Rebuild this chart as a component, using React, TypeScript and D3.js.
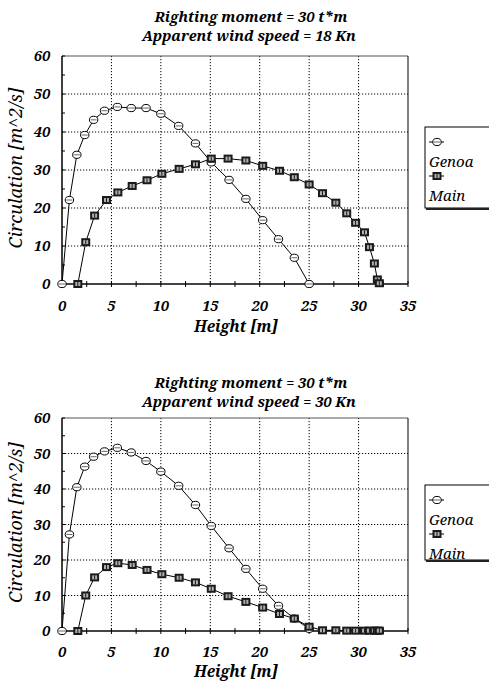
import * as d3 from "d3";
import { useEffect, useRef } from "react";

// heights along the sail (m)
const genoaHeights = [0, 0.75, 1.5, 2.3, 3.2, 4.3, 5.6, 7.0, 8.5, 10.0, 11.8, 13.5, 15.1, 16.9, 18.6, 20.3, 21.9, 23.5, 25.0];
const mainHeights = [1.6, 2.4, 3.3, 4.5, 5.65, 7.1, 8.6, 10.1, 11.85, 13.5, 15.1, 16.8, 18.6, 20.3, 22.0, 23.5, 25.0, 26.35, 27.7, 28.8, 29.7, 30.6, 31.1, 31.6, 31.9, 32.1];

// circulation (m^2/s), 18 Kn
const genoa18 = [0, 22.1, 34, 39.2, 43.2, 45.6, 46.6, 46.3, 46.3, 44.8, 41.6, 37, 32, 27.4, 22.4, 16.8, 11.8, 6.9, 0];
const main18 = [0, 11, 18, 22.1, 24.1, 25.8, 27.3, 29, 30.3, 31.5, 33, 33, 32.5, 31.1, 29.8, 28.1, 26.2, 23.9, 21.4, 18.6, 16.1, 13.6, 9.7, 5.4, 1.2, 0.2];

// circulation (m^2/s), 30 Kn
const genoa30 = [0, 27.2, 40.5, 46.3, 49.1, 50.6, 51.6, 50.3, 47.9, 44.9, 40.9, 35.5, 29.6, 23.3, 17.5, 11.9, 7.1, 3.5, 0.6];
const main30 = [0, 10, 15.1, 18, 19.1, 18.6, 17.2, 16, 15, 13.7, 11.9, 9.8, 8.2, 6.6, 4.8, 3.5, 1.2, 0.2, 0.2, 0.1, 0.1, 0.1, 0.1, 0.1, 0.1, 0.1];

const xTicks = [0, 5, 10, 15, 20, 25, 30, 35];
const yTicks = [0, 10, 20, 30, 40, 50, 60];
const titleLine1 = "Righting moment = 30 t*m";
const windSpeeds = ["18", "30"];
const seriesNames = ["Genoa", "Main"];

const FONT = "Noto Serif";

const App = () => {
  const svgRef = useRef(null);

  useEffect(() => {
    const svg = d3.select(svgRef.current);
    svg.selectAll("*").remove();

    const drawCircle = (g, x, y) => {
      g.append("ellipse")
        .attr("cx", x).attr("cy", y).attr("rx", 4.2).attr("ry", 3.6)
        .attr("fill", "white").attr("stroke", "black").attr("stroke-width", 1);
      g.append("line")
        .attr("x1", x - 3).attr("x2", x + 3).attr("y1", y).attr("y2", y)
        .attr("stroke", "black").attr("stroke-width", 0.6);
    };

    const drawSquare = (g, x, y) => {
      g.append("rect")
        .attr("x", x - 4.5).attr("y", y - 4).attr("width", 9).attr("height", 8)
        .attr("fill", "#1a1a1a");
      g.append("rect")
        .attr("x", x - 2.5).attr("y", y - 2).attr("width", 5).attr("height", 4)
        .attr("fill", "#b0b0b0");
      g.append("line")
        .attr("x1", x).attr("x2", x).attr("y1", y - 2).attr("y2", y + 2)
        .attr("stroke", "#1a1a1a").attr("stroke-width", 1);
    };

    const drawChart = (cfg) => {
      const { top, bottom, genoa, main, speed, titleY, tickY, xTitleY, legendY, legendH } = cfg;
      const left = 62;
      const right = 408;
      const x = d3.scaleLinear().domain([0, 35]).range([left, right]);
      const y = d3.scaleLinear().domain([0, 60]).range([bottom, top]);
      const g = svg.append("g");

      // title
      g.append("text")
        .attr("x", 251).attr("y", titleY)
        .attr("text-anchor", "middle")
        .attr("font-family", FONT).attr("font-style", "italic").attr("font-weight", "bold")
        .attr("font-size", 14.6)
        .text(titleLine1);
      g.append("text")
        .attr("x", 249).attr("y", titleY + 19)
        .attr("text-anchor", "middle")
        .attr("font-family", FONT).attr("font-style", "italic").attr("font-weight", "bold")
        .attr("font-size", 14.6)
        .text(`Apparent wind speed = ${speed} Kn`);

      // grid
      g.selectAll(".vgrid")
        .data(xTicks.slice(1, -1))
        .enter()
        .append("line")
        .attr("x1", (d) => x(d)).attr("x2", (d) => x(d))
        .attr("y1", top).attr("y2", bottom)
        .attr("stroke", "black").attr("stroke-width", 1).attr("stroke-dasharray", "1.2,1.8");
      g.selectAll(".hgrid")
        .data(yTicks.slice(1, -1))
        .enter()
        .append("line")
        .attr("x1", left).attr("x2", right)
        .attr("y1", (d) => y(d)).attr("y2", (d) => y(d))
        .attr("stroke", "black").attr("stroke-width", 1).attr("stroke-dasharray", "1.2,1.8");

      // frame
      g.append("line").attr("x1", left).attr("x2", right).attr("y1", top).attr("y2", top)
        .attr("stroke", "#555").attr("stroke-width", 1);
      g.append("line").attr("x1", right).attr("x2", right).attr("y1", top).attr("y2", bottom)
        .attr("stroke", "black").attr("stroke-width", 1);
      g.append("line").attr("x1", left).attr("x2", left).attr("y1", top).attr("y2", bottom)
        .attr("stroke", "black").attr("stroke-width", 1.5);
      g.append("line").attr("x1", left).attr("x2", right).attr("y1", bottom).attr("y2", bottom)
        .attr("stroke", "#444").attr("stroke-width", 2);

      // minor ticks
      const xMinor = d3.range(0, 35.01, 2.5);
      g.selectAll(".xminor")
        .data(xMinor)
        .enter()
        .append("line")
        .attr("x1", (d) => x(d)).attr("x2", (d) => x(d))
        .attr("y1", bottom - 3).attr("y2", bottom + 3)
        .attr("stroke", "black").attr("stroke-width", 1);
      const yMinor = d3.range(0, 60.01, 5);
      g.selectAll(".yminor")
        .data(yMinor)
        .enter()
        .append("line")
        .attr("x1", left).attr("x2", left + 3)
        .attr("y1", (d) => y(d)).attr("y2", (d) => y(d))
        .attr("stroke", "black").attr("stroke-width", 1);

      // tick labels
      g.selectAll(".xlab")
        .data(xTicks)
        .enter()
        .append("text")
        .attr("x", (d) => x(d))
        .attr("y", tickY)
        .attr("text-anchor", "middle")
        .attr("font-family", FONT).attr("font-style", "italic").attr("font-weight", "bold")
        .attr("font-size", 14.5)
        .text((d) => d);
      g.selectAll(".ylab")
        .data(yTicks)
        .enter()
        .append("text")
        .attr("x", 50)
        .attr("y", (d) => y(d))
        .attr("dy", "0.36em")
        .attr("text-anchor", "end")
        .attr("font-family", FONT).attr("font-style", "italic").attr("font-weight", "bold")
        .attr("font-size", 14.5)
        .text((d) => d);

      // axis titles
      g.append("text")
        .attr("x", 236).attr("y", xTitleY)
        .attr("text-anchor", "middle")
        .attr("font-family", FONT).attr("font-style", "italic").attr("font-weight", "bold")
        .attr("font-size", 15.5)
        .text("Height [m]");
      g.append("text")
        .attr("transform", `translate(22, ${(top + bottom) / 2 - 2}) rotate(-90)`)
        .attr("text-anchor", "middle")
        .attr("font-family", FONT).attr("font-style", "italic")
        .attr("font-size", 18)
        .text("Circulation [m^2/s]");

      // series
      const line = d3.line().x((d) => x(d[0])).y((d) => y(d[1]));
      const gPts = genoaHeights.map((h, i) => [h, genoa[i]]);
      const mPts = mainHeights.map((h, i) => [h, main[i]]);
      g.append("path").attr("d", line(gPts)).attr("fill", "none").attr("stroke", "black").attr("stroke-width", 1);
      g.append("path").attr("d", line(mPts)).attr("fill", "none").attr("stroke", "black").attr("stroke-width", 1);
      gPts.forEach((p) => drawCircle(g, x(p[0]), y(p[1])));
      mPts.forEach((p) => drawSquare(g, x(p[0]), y(p[1])));

      // legend
      const lx = 425;
      g.append("rect")
        .attr("x", lx).attr("y", legendY).attr("width", 90).attr("height", legendH)
        .attr("fill", "white").attr("stroke", "black").attr("stroke-width", 1);
      g.append("line")
        .attr("x1", lx + 1).attr("x2", 489).attr("y1", legendY + legendH + 1).attr("y2", legendY + legendH + 1)
        .attr("stroke", "#222").attr("stroke-width", 2);
      const rowY = [legendY + 15, legendY + 49];
      seriesNames.forEach((name, i) => {
        g.append("line")
          .attr("x1", lx + 4).attr("x2", lx + 19).attr("y1", rowY[i]).attr("y2", rowY[i])
          .attr("stroke", "black").attr("stroke-width", 1);
        if (i === 0) drawCircle(g, lx + 12, rowY[i]);
        else drawSquare(g, lx + 12, rowY[i]);
        g.append("text")
          .attr("x", lx + 4).attr("y", rowY[i] + 25)
          .attr("font-family", FONT).attr("font-style", "italic")
          .attr("font-size", 15)
          .text(name);
      });
    };

    drawChart({
      top: 56, bottom: 284, genoa: genoa18, main: main18, speed: windSpeeds[0],
      titleY: 22, tickY: 311, xTitleY: 332, legendY: 127, legendH: 81,
    });
    drawChart({
      top: 418, bottom: 631, genoa: genoa30, main: main30, speed: windSpeeds[1],
      titleY: 388, tickY: 657, xTitleY: 677, legendY: 485, legendH: 75,
    });
  }, []);

  return (
    <div style={{ position: "absolute", left: 0, top: 0 }}>
      <svg ref={svgRef} width={489} height={681} style={{ display: "block", background: "white" }}></svg>
    </div>
  );
};

export default App;
